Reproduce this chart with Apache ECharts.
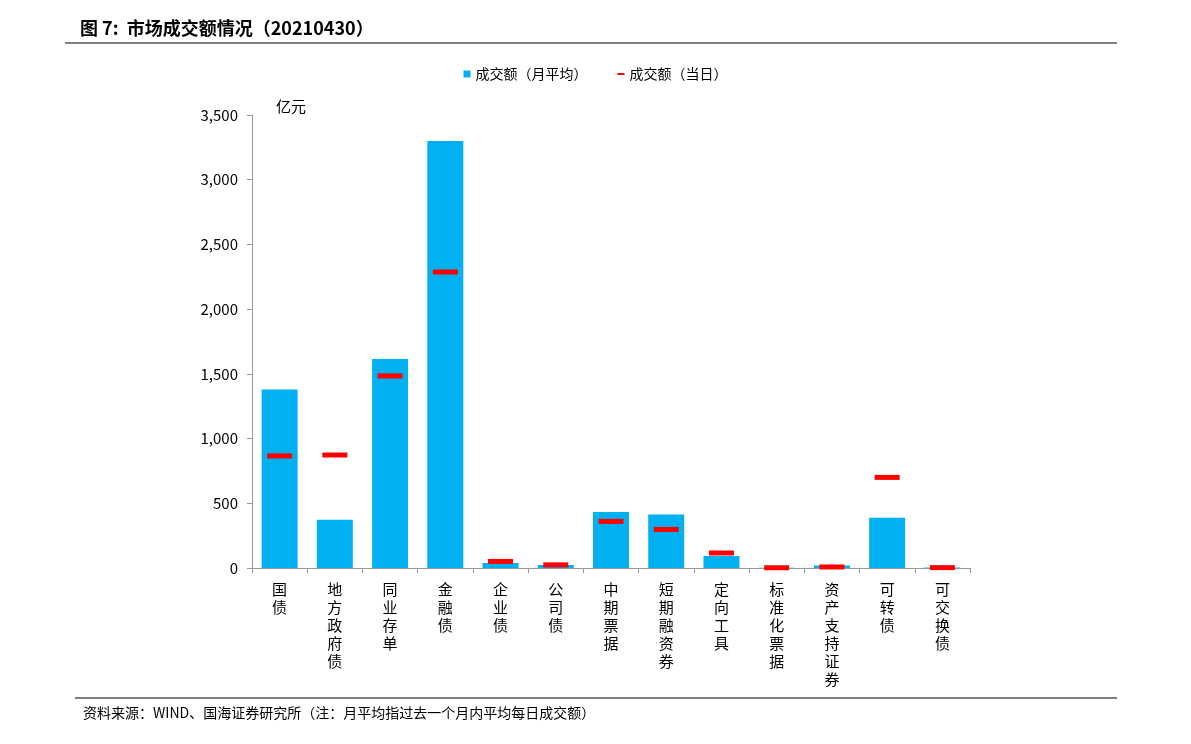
<!DOCTYPE html>
<html><head><meta charset="utf-8">
<script src="https://cdn.jsdelivr.net/npm/echarts@6/dist/echarts.min.js"></script>
<style>html,body{margin:0;padding:0;background:#fff}#c{width:1191px;height:744px}</style>
</head><body><div id="c"></div>
<script>
const categories = ['国债','地方政府债','同业存单','金融债','企业债','公司债','中期票据','短期融资券','定向工具','标准化票据','资产支持证券','可转债','可交换债'];
const monthlyAvg = [1380, 372, 1615, 3300, 39, 23, 433, 414, 92, 2, 20, 389, 3];
const daily = [866, 873, 1484, 2287, 51, 24, 360, 298, 116, 2, 8, 700, 3];
const yTicks = [0, 500, 1000, 1500, 2000, 2500, 3000, 3500];
const font = '"Noto Sans CJK SC", "Liberation Sans", sans-serif';

const chart = echarts.init(document.getElementById('c'));
chart.setOption({
  animation: false,
  textStyle: {fontFamily: font},
  title: {text: '图 7:  市场成交额情况（20210430）', left: 75, top: 14,
    textStyle: {fontFamily: font, fontSize: 18, fontWeight: 'bold', color: '#000'}},
  legend: {top: 62, left: 'center', itemWidth: 7, itemHeight: 7, itemGap: 30,
    textStyle: {fontFamily: font, fontSize: 14, color: '#000'},
    data: [{name: '成交额（月平均）', icon: 'rect'}, {name: '成交额（当日）', icon: 'path://M0,0H14V4H0Z', itemStyle: {color: '#ff0000', opacity: 1}}]},
  graphic: [
    {type: 'line', shape: {x1: 65, y1: 43, x2: 1117, y2: 43}, style: {stroke: '#555', lineWidth: 1.5}},
    {type: 'line', shape: {x1: 75, y1: 698, x2: 1117, y2: 698}, style: {stroke: '#555', lineWidth: 1.5}},
    {type: 'text', left: 83, top: 706, style: {text: '资料来源：WIND、国海证券研究所（注：月平均指过去一个月内平均每日成交额）', font: '14px ' + font, fill: '#000'}},
    {type: 'text', left: 276, top: 99, style: {text: '亿元', font: '15px ' + font, fill: '#000'}}
  ],
  grid: {left: 252, right: 221, top: 115, bottom: 176},
  xAxis: {type: 'category', data: categories,
    axisLine: {lineStyle: {color: '#999'}},
    axisTick: {show: true, interval: 0, lineStyle: {color: '#999'}},
    axisLabel: {interval: 0, color: '#000', fontSize: 15, lineHeight: 18, margin: 12,
      formatter: v => v.split('').join('\n')}},
  yAxis: {type: 'value', min: 0, max: 3500, interval: 500,
    axisLine: {show: true, lineStyle: {color: '#999'}},
    axisTick: {show: true, lineStyle: {color: '#999'}},
    splitLine: {show: false},
    axisLabel: {color: '#000', fontSize: 15, margin: 14,
      formatter: v => yTicks.includes(v) ? v.toLocaleString('en-US') : ''}},
  series: [
    {name: '成交额（月平均）', type: 'bar', data: monthlyAvg, barWidth: 36,
      itemStyle: {color: '#00b0f0'}},
    {name: '成交额（当日）', type: 'scatter', data: daily, symbol: 'rect', symbolSize: [25, 5],
      itemStyle: {color: '#ff0000', opacity: 1}, z: 5}
  ]
});
</script></body></html>
